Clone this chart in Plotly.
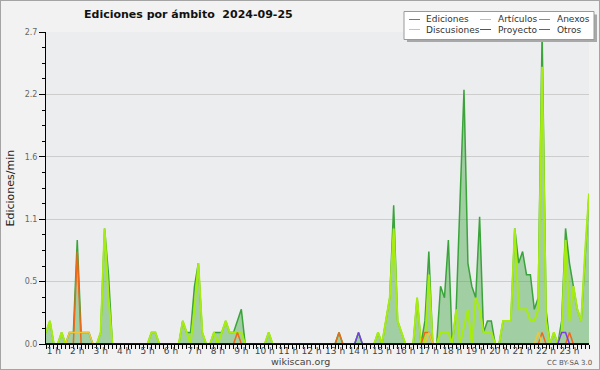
import plotly.graph_objects as go

# 10-minute bins, first bin at 00:40, last at 23:50
start_minute = 40
step_minute = 10

ediciones = [
    0.1, 0.2,                                   # 0:40-0:50
    0, 0, 0.1, 0, 0.1, 0.1,                     # 1:00-1:50
    0.9, 0.1, 0.1, 0.1, 0, 0,                   # 2:00-2:50
    0.1, 1.0, 0.6, 0, 0, 0,                     # 3:00-3:50
    0, 0, 0, 0, 0, 0,                           # 4:00-4:50
    0, 0.1, 0.1, 0, 0, 0,                       # 5:00-5:50
    0, 0, 0, 0.2, 0.1, 0.1,                     # 6:00-6:50
    0.5, 0.7, 0.1, 0, 0, 0.1,                   # 7:00-7:50
    0.1, 0.1, 0.2, 0.1, 0.1, 0.2,               # 8:00-8:50
    0.3, 0, 0, 0, 0, 0,                         # 9:00-9:50
    0, 0.1, 0, 0, 0, 0,                         # 10:00-10:50
    0, 0, 0, 0, 0, 0,                           # 11:00-11:50
    0, 0, 0, 0, 0, 0,                           # 12:00-12:50
    0, 0.1, 0, 0, 0, 0,                         # 13:00-13:50
    0.1, 0, 0, 0, 0, 0.1,                       # 14:00-14:50
    0, 0.2, 0.4, 1.2, 0.2, 0.1,                 # 15:00-15:50
    0, 0, 0, 0.4, 0, 0.2,                       # 16:00-16:50
    0.8, 0, 0, 0.5, 0.4, 0.9,                   # 17:00-17:50
    0, 0.3, 1.2, 2.2, 0.7, 0.5,                 # 18:00-18:50
    0.4, 1.1, 0.1, 0.2, 0.2, 0,                 # 19:00-19:50
    0, 0.2, 0.2, 0.2, 1.0, 0.7,                 # 20:00-20:50
    0.8, 0.6, 0.6, 0.3, 0.4, 2.7,               # 21:00-21:50
    0.3, 0, 0.1, 0, 0.2, 1.0,                   # 22:00-22:50
    0.7, 0.5, 0.3, 0.2, 0.8, 1.3,               # 23:00-23:50
]

articulos = [
    0.1, 0.2,
    0, 0, 0.1, 0, 0, 0,
    0, 0, 0, 0, 0, 0,
    0.1, 1.0, 0.4, 0, 0, 0,
    0, 0, 0, 0, 0, 0,
    0, 0.1, 0.1, 0, 0, 0,
    0, 0, 0, 0.2, 0.1, 0,
    0.3, 0.7, 0.1, 0, 0, 0.1,
    0, 0.1, 0.2, 0.1, 0.1, 0.1,
    0.1, 0, 0, 0, 0, 0,
    0, 0.1, 0, 0, 0, 0,
    0, 0, 0, 0, 0, 0,
    0, 0, 0, 0, 0, 0,
    0, 0, 0, 0, 0, 0,
    0, 0, 0, 0, 0, 0.1,
    0, 0.2, 0.4, 1.0, 0.2, 0.1,
    0, 0, 0, 0.4, 0, 0,
    0.6, 0, 0, 0.1, 0.1, 0.1,
    0, 0.3, 0, 0.15, 0.3, 0,
    0.4, 0.3, 0.1, 0.1, 0.1, 0,
    0, 0.2, 0.2, 0.2, 1.0, 0.3,
    0.3, 0.3, 0.2, 0.2, 0.3, 2.4,
    0.2, 0, 0.1, 0, 0.1, 0.9,
    0.2, 0.5, 0.3, 0.2, 0.8, 1.3,
]

anexos = [0.0] * 140
discusiones = [0.0] * 140
proyecto = [0.0] * 140
otros = [0.0] * 140

# sparse values: (time "HH:MM", value)
anexos_points = [("2:00", 0.8), ("8:50", 0.1), ("13:10", 0.1), ("16:50", 0.1),
                 ("17:00", 0.1), ("21:50", 0.1), ("23:00", 0.1)]
discusiones_points = [("1:40", 0.1), ("1:50", 0.1), ("2:00", 0.1), ("2:10", 0.1),
                      ("2:20", 0.1), ("2:30", 0.1), ("17:00", 0.1), ("21:40", 0.1)]
otros_points = [("14:00", 0.1), ("22:40", 0.1), ("22:50", 0.1)]

hour_ticks = list(range(1, 24))
hour_labels = [f"{h} h" for h in hour_ticks]
y_ticks = [0, 0.54, 1.08, 1.62, 2.16, 2.7]
y_labels = ["0.0", "0.5", "1.1", "1.6", "2.2", "2.7"]

title_text = "Ediciones por ámbito\u00a0\u00a02024-09-25"
y_title = "Ediciones/min"

n = len(ediciones)
x_hours = [(start_minute + step_minute * i) / 60 for i in range(n)]


def idx(t):
    h, m = t.split(":")
    return (int(h) * 60 + int(m) - start_minute) // step_minute


for arr, pts in ((anexos, anexos_points), (discusiones, discusiones_points), (otros, otros_points)):
    for t, v in pts:
        arr[idx(t)] = v

series = [
    ("Ediciones", ediciones, "#3aa43a", 1.5),
    ("Artículos", articulos, "#a6ec10", 2.0),
    ("Anexos", anexos, "#ec6a1a", 1.5),
    ("Discusiones", discusiones, "#eec63a", 1.5),
    ("Proyecto", proyecto, "#555555", 1.5),
    ("Otros", otros, "#7a3ee8", 1.5),
]

fig = go.Figure()
for name, vals, color, lw in series:
    kw = {}
    if name == "Ediciones":
        kw = dict(fill="tozeroy", fillcolor="rgba(60,165,60,0.42)")
    fig.add_trace(go.Scatter(x=x_hours, y=vals, mode="lines", name=name,
                             line=dict(color=color, width=lw), showlegend=False,
                             hoverinfo="skip", **kw))

L, R, T, B = 46, 589, 32, 344
W, H = 600, 370


def px(xp):
    return (xp - L) / (R - L)


def py(yp):
    return (B - yp) / (B - T)


shapes = []
# outer image border
shapes.append(dict(type="rect", xref="paper", yref="paper", x0=px(0), x1=px(W), y0=py(H), y1=py(0),
                   line=dict(color="#a4a4a4", width=2), layer="above"))
# baseline over zero lines
shapes.append(dict(type="line", xref="paper", yref="y", x0=0, x1=1, y0=0, y1=0,
                   line=dict(color="black", width=1.5), layer="above"))
# legend shadow + box
shapes.append(dict(type="rect", xref="paper", yref="paper", x0=px(407), x1=px(597), y0=py(42), y1=py(14.5),
                   line=dict(width=0), fillcolor="#a8a8a8", layer="above"))
shapes.append(dict(type="rect", xref="paper", yref="paper", x0=px(404), x1=px(594), y0=py(39.5), y1=py(11.5),
                   line=dict(color="#999999", width=1), fillcolor="white", layer="above"))

annotations = []
legend_cols = [(409, 420, 424), (480, 491, 496), (539, 550, 555)]
legend_rows = [19.5, 29.5]
for k, (name, vals, color, lw) in enumerate(series):
    r, c = divmod(k, 3)
    x0, x1, tx = legend_cols[c]
    yy = legend_rows[r]
    shapes.append(dict(type="line", xref="paper", yref="paper", x0=px(x0), x1=px(x1), y0=py(yy), y1=py(yy),
                       line=dict(color=color, width=1), layer="above"))
    annotations.append(dict(text=name, xref="paper", yref="paper", x=px(tx), y=py(yy), xanchor="left",
                            yanchor="middle", showarrow=False, font=dict(size=9, color="#333333")))

annotations.append(dict(text=title_text, xref="paper", yref="paper", x=px(188.5), y=py(14.5),
                        xanchor="center", yanchor="middle", showarrow=False,
                        font=dict(size=11, color="#111111", family="DejaVu Sans", weight="bold")))
annotations.append(dict(text=y_title, xref="paper", yref="paper", x=px(9.5), y=py(188),
                        xanchor="center", yanchor="middle", textangle=-90, showarrow=False,
                        font=dict(size=11, color="#222222")))
annotations.append(dict(text="wikiscan.org", xref="paper", yref="paper", x=px(300), y=py(361.5),
                        xanchor="center", yanchor="middle", showarrow=False,
                        font=dict(size=9.5, color="#444444")))
annotations.append(dict(text="CC BY-SA 3.0", xref="paper", yref="paper", x=px(569), y=py(363),
                        xanchor="center", yanchor="middle", showarrow=False,
                        font=dict(size=7, color="#555555")))

fig.update_layout(
    width=W, height=H,
    margin=dict(l=L, r=W - R, t=T, b=H - B, pad=0),
    paper_bgcolor="#f2f2f2", plot_bgcolor="#ecedef",
    font=dict(family="DejaVu Sans", size=9, color="#444444"),
    showlegend=False,
    shapes=shapes, annotations=annotations,
    xaxis=dict(range=[x_hours[0], x_hours[-1]], tickmode="array", tickvals=hour_ticks, ticktext=hour_labels,
               ticks="", showgrid=False, zeroline=False, showline=True, linecolor="black", linewidth=1,
               tickfont=dict(size=9, color="#444444"), ticklabelstandoff=-2,
               minor=dict(ticks="outside", ticklen=4, tickcolor="black", dtick=1 / 6, tick0=0, showgrid=False)),
    yaxis=dict(range=[0, 2.7], tickmode="array", tickvals=y_ticks, ticktext=y_labels,
               ticks="outside", ticklen=6, tickcolor="black", showgrid=True, gridcolor="#cdcdcd",
               zeroline=False, showline=True, linecolor="black", linewidth=1,
               tickfont=dict(size=8, color="#666666"),
               minor=dict(ticks="outside", ticklen=3, tickcolor="black", dtick=0.135, tick0=0, showgrid=False)),
)

fig.write_html("out.html", config={"displayModeBar": False},
               post_script="document.body.style.margin='0';document.body.style.padding='0';"
                           "document.body.style.overflow='hidden';")
